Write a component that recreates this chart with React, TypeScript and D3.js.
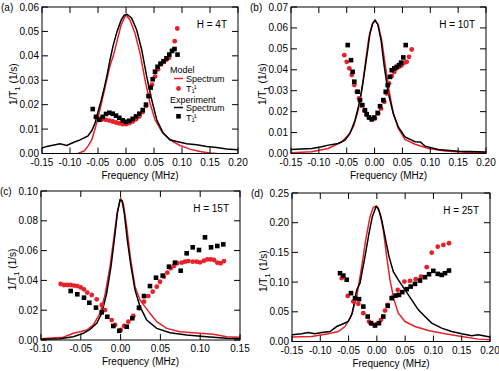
import React from 'react';
import * as d3 from 'd3';

type P = [number, number];

// ---------- Panel (a): H = 4T ----------
const aExpSpectrum: P[] = [[-0.150,.0022],[-0.1415,.0029],[-0.1178,.0040],[-0.1058,.0033],[-0.0941,.0045],[-0.0821,.0056],[-0.0678,.0072],[-0.0607,.0095],[-0.0553,.0125],[-0.0500,.0170],[-0.0446,.0215],[-0.0392,.0265],[-0.0339,.0320],[-0.0285,.0384],[-0.0232,.0440],[-0.0160,.0500],[-0.0089,.0545],[-0.0036,.0565],[0.0013,.0571],[0.0102,.0554],[0.0191,.0506],[0.0281,.0424],[0.0370,.0315],[0.0459,.0220],[0.0549,.0138],[0.0666,.0083],[0.0786,.0056],[0.0906,.0049],[0.1084,.0040],[0.1263,.0036],[0.1441,.0029],[0.1620,.0025],[0.1798,.0018],[0.1995,.0015]];
const aModelSpectrum: P[] = [[-0.0857,0],[-0.0749,.0010],[-0.0678,.0030],[-0.0612,.0056],[-0.0553,.0100],[-0.0464,.0180],[-0.0375,.0270],[-0.0285,.0360],[-0.0226,.0400],[-0.0160,.0460],[-0.0089,.0525],[-0.0005,.0567],[0.0072,.0547],[0.0161,.0492],[0.0250,.0411],[0.0340,.0301],[0.0429,.0206],[0.0518,.0138],[0.0638,.0090],[0.0786,.0056],[0.0965,.0033],[0.1143,.0018],[0.1322,.0008],[0.1500,.0002],[0.1620,0]];
const aModelT1: P[] = [[-0.0535,.0148],[-0.0476,.0143],[-0.0416,.0140],[-0.0357,.0138],[-0.0298,.0135],[-0.0237,.0131],[-0.0178,.0127],[-0.0119,.0123],[-0.0059,.0120],[0.0000,.0120],[0.0059,.0124],[0.0120,.0131],[0.0179,.0140],[0.0238,.0152],[0.0299,.0170],[0.0357,.0195],[0.0417,.0240],[0.0465,.0282],[0.0518,.0315],[0.0572,.0345],[0.0625,.0365],[0.0679,.0375],[0.0724,.0385],[0.0768,.0392],[0.0822,.0420],[0.0870,.0460],[0.0916,.0512]];
const aExpT1: P[] = [[-0.0594,.0182],[-0.0535,.0150],[-0.0476,.0138],[-0.0416,.0150],[-0.0357,.0162],[-0.0298,.0167],[-0.0237,.0163],[-0.0178,.0155],[-0.0119,.0146],[-0.0059,.0136],[0.0000,.0130],[0.0059,.0134],[0.0120,.0142],[0.0179,.0152],[0.0238,.0163],[0.0299,.0178],[0.0357,.0200],[0.0402,.0235],[0.0441,.0270],[0.0477,.0304],[0.0518,.0335],[0.0563,.0355],[0.0616,.0368],[0.0670,.0378],[0.0723,.0390],[0.0773,.0405],[0.0822,.0420],[0.0866,.0428],[0.0920,.0405]];

// ---------- Panel (b): H = 10T ----------
const bExpSpectrum: P[] = [[-0.15,.0019],[-0.1128,.0024],[-0.0949,.0032],[-0.0830,.0040],[-0.0651,.0048],[-0.0531,.0064],[-0.0441,.0096],[-0.0351,.0159],[-0.0261,.0255],[-0.0202,.0351],[-0.0141,.0462],[-0.0082,.0574],[-0.0033,.0622],[0.0008,.0638],[0.0056,.0619],[0.0116,.0542],[0.0175,.0414],[0.0247,.0287],[0.0336,.0191],[0.0426,.0127],[0.0546,.0079],[0.0726,.0056],[0.0820,.0055],[0.0905,.0035],[0.1144,.0019],[0.1503,.0011],[0.1862,.0008],[0.2,.0007]];
const bModelSpectrum: P[] = [[-0.15,.0003],[-0.1128,.0008],[-0.0830,.0024],[-0.0590,.0056],[-0.0471,.0088],[-0.0381,.0127],[-0.0292,.0207],[-0.0220,.0319],[-0.0159,.0446],[-0.0100,.0558],[-0.0041,.0619],[0.0008,.0634],[0.0067,.0614],[0.0128,.0542],[0.0187,.0431],[0.0259,.0303],[0.0336,.0191],[0.0426,.0120],[0.0546,.0067],[0.0726,.0044],[0.0965,.0024],[0.1264,.0012],[0.1623,.0006],[0.2,.0003]];
const bModelT1: P[] = [[-0.0543,.0470],[-0.0500,.0438],[-0.0453,.0407],[-0.0410,.0375],[-0.0364,.0327],[-0.0320,.0295],[-0.0279,.0263],[-0.0231,.0231],[-0.0184,.0204],[-0.0141,.0185],[-0.0095,.0172],[-0.0041,.0164],[0.0008,.0167],[0.0067,.0191],[0.0116,.0215],[0.0175,.0247],[0.0218,.0287],[0.0259,.0335],[0.0308,.0370],[0.0354,.0390],[0.0397,.0407],[0.0439,.0414],[0.0487,.0422],[0.0534,.0434],[0.0577,.0438],[0.0618,.0462],[0.0667,.0497]];
const bExpT1: P[] = [[-0.0482,.0518],[-0.0423,.0446],[-0.0393,.0390],[-0.0364,.0343],[-0.0303,.0295],[-0.0261,.0255],[-0.0220,.0231],[-0.0172,.0207],[-0.0141,.0188],[-0.0100,.0172],[-0.0051,.0163],[-0.0005,.0172],[0.0056,.0194],[0.0098,.0226],[0.0157,.0255],[0.0200,.0295],[0.0236,.0327],[0.0277,.0366],[0.0308,.0398],[0.0354,.0407],[0.0397,.0414],[0.0439,.0422],[0.0474,.0434],[0.0516,.0459],[0.0559,.0518]];

// ---------- Panel (c): H = 15T ----------
const cExpSpectrum: P[] = [[-0.10,.0005],[-0.0761,.0009],[-0.0594,.0022],[-0.0469,.0045],[-0.0384,.0072],[-0.0300,.0112],[-0.0237,.0179],[-0.0175,.0313],[-0.0121,.0492],[-0.0079,.0671],[-0.0041,.0850],[-0.0008,.0940],[0.0018,.0935],[0.0047,.0850],[0.0084,.0671],[0.0131,.0492],[0.0181,.0336],[0.0244,.0224],[0.0328,.0134],[0.0454,.0078],[0.0621,.0049],[0.0830,.0034],[0.1082,.0022],[0.1333,.0011],[0.15,.0009]];
const cModelSpectrum: P[] = [[-0.10,.0009],[-0.0720,.0018],[-0.0594,.0045],[-0.0510,.0056],[-0.0426,.0067],[-0.0343,.0101],[-0.0259,.0179],[-0.0196,.0302],[-0.0133,.0492],[-0.0083,.0693],[-0.0041,.0861],[0.0001,.0951],[0.0034,.0917],[0.0077,.0760],[0.0127,.0537],[0.0181,.0358],[0.0244,.0268],[0.0307,.0224],[0.0369,.0179],[0.0454,.0123],[0.0579,.0078],[0.0746,.0056],[0.0997,.0045],[0.1165,.0038],[0.1333,.0022],[0.15,.0018]];
const cModelT1: P[] = [[-0.0753,.0376],[-0.0711,.0369],[-0.0670,.0369],[-0.0627,.0369],[-0.0585,.0365],[-0.0544,.0362],[-0.0501,.0353],[-0.0460,.0340],[-0.0418,.0318],[-0.0363,.0302],[-0.0300,.0273],[-0.0237,.0235],[-0.0196,.0201],[-0.0112,.0134],[-0.0070,.0101],[0.0001,.0067],[0.0043,.0094],[0.0097,.0123],[0.0160,.0161],[0.0235,.0213],[0.0294,.0257],[0.0348,.0295],[0.0403,.0324],[0.0454,.0358],[0.0495,.0391],[0.0545,.0425],[0.0587,.0452],[0.0629,.0481],[0.0671,.0497],[0.0712,.0515],[0.0768,.0519],[0.0809,.0526],[0.0851,.0530],[0.0906,.0526],[0.0956,.0526],[0.0997,.0521],[0.1048,.0532],[0.1089,.0541],[0.1132,.0541],[0.1173,.0537],[0.1215,.0519],[0.1257,.0515],[0.1299,.0530]];
const cExpT1: P[] = [[-0.0627,.0329],[-0.0544,.0307],[-0.0460,.0284],[-0.0393,.0250],[-0.0309,.0217],[-0.0237,.0186],[-0.0167,.0156],[-0.0092,.0094],[-0.0016,.0062],[0.0077,.0089],[0.0147,.0146],[0.0231,.0217],[0.0294,.0295],[0.0369,.0362],[0.0445,.0418],[0.0529,.0432],[0.0608,.0492],[0.0683,.0519],[0.0755,.0465],[0.0830,.0582],[0.0906,.0622],[0.0985,.0604],[0.1060,.0689],[0.1136,.0622],[0.1215,.0631],[0.1290,.0642]];

// ---------- Panel (d): H = 25T ----------
const dExpSpectrum: P[] = [[-0.15,.0113],[-0.1329,.0129],[-0.1212,.0151],[-0.1093,.0129],[-0.0975,.0151],[-0.0828,.0168],[-0.0710,.0252],[-0.0593,.0298],[-0.0505,.0336],[-0.0434,.0477],[-0.0356,.0869],[-0.0298,.0982],[-0.0210,.1429],[-0.0139,.1822],[-0.0080,.2102],[-0.0015,.2270],[0.0026,.2243],[0.0086,.2046],[0.0144,.1765],[0.0215,.1429],[0.0291,.1177],[0.0379,.1037],[0.0498,.0869],[0.0616,.0701],[0.0733,.0533],[0.0851,.0420],[0.0970,.0309],[0.1146,.0225],[0.1323,.0168],[0.1500,.0129],[0.1677,.0096],[0.1793,.0113],[0.2,.0074]];
const dModelSpectrum: P[] = [[-0.15,.0074],[-0.1152,.0084],[-0.0858,.0129],[-0.0682,.0168],[-0.0563,.0252],[-0.0457,.0420],[-0.0356,.0757],[-0.0268,.1261],[-0.0197,.1710],[-0.0121,.2102],[-0.0063,.2260],[-0.0003,.2281],[0.0056,.2159],[0.0114,.1878],[0.0174,.1429],[0.0232,.1037],[0.0303,.0701],[0.0379,.0477],[0.0498,.0336],[0.0674,.0252],[0.0909,.0185],[0.1205,.0129],[0.15,.0084],[0.1793,.0040],[0.2,.0029]];
const dModelT1: P[] = [[-0.0621,.1066],[-0.0515,.0768],[-0.0416,.0673],[-0.0328,.0634],[-0.0240,.0477],[-0.0139,.0336],[-0.0091,.0298],[-0.0003,.0298],[0.0073,.0365],[0.0144,.0521],[0.0192,.0617],[0.0291,.0757],[0.0369,.0869],[0.0486,.1009],[0.0586,.1020],[0.0687,.1049],[0.0780,.1093],[0.0881,.1251],[0.0970,.1496],[0.1076,.1597],[0.1175,.1626],[0.1275,.1654]];
const dExpT1: P[] = [[-0.0651,.1150],[-0.0593,.1110],[-0.0533,.1040],[-0.0457,.0814],[-0.0386,.0730],[-0.0316,.0713],[-0.0240,.0588],[-0.0162,.0420],[-0.0103,.0309],[-0.0033,.0269],[0.0038,.0309],[0.0114,.0420],[0.0192,.0600],[0.0262,.0730],[0.0333,.0773],[0.0391,.0785],[0.0450,.0831],[0.0528,.0881],[0.0598,.0925],[0.0674,.0970],[0.0763,.1026],[0.0851,.1083],[0.0922,.1133],[0.0998,.1189],[0.1076,.1138],[0.1146,.1121],[0.1205,.1150],[0.1275,.1194]];

// ---------- Axes ----------
const xTicksWide = [-0.15, -0.10, -0.05, 0.00, 0.05, 0.10, 0.15, 0.20];
const xTicksC = [-0.10, -0.05, 0.00, 0.05, 0.10, 0.15];
const yTicksA = [0, 0.01, 0.02, 0.03, 0.04, 0.05, 0.06];
const yTicksB = [0, 0.01, 0.02, 0.03, 0.04, 0.05, 0.06, 0.07];
const yTicksC = [0, 0.02, 0.04, 0.06, 0.08, 0.10];
const yTicksD = [0, 0.05, 0.10, 0.15, 0.20, 0.25];
const panelTags = ['(a)', '(b)', '(c)', '(d)'];
const fieldTexts = ['H = 4T', 'H = 10T', 'H = 15T', 'H = 25T'];
const xTitle = 'Frequency (MHz)';
const legendHeads = ['Model', 'Experiment'];
const legendSpectrum = 'Spectrum';

const RED = '#e8202a';
const FONT = 'Liberation Sans, Arial, Helvetica, sans-serif';

type Cfg = {
  id: string; x0: number; x1: number; y0: number; y1: number;
  xDomain: [number, number]; yDomain: [number, number];
  xTicks: number[]; yTicks: number[];
  exp: P[]; model: P[]; expT1: P[]; modelT1: P[];
  tag: string; field: string; legend?: boolean;
};

const panels: Cfg[] = [
  { id: 'a', x0: 42, x1: 238, y0: 7, y1: 153.5, xDomain: [-0.15, 0.2], yDomain: [0, 0.06], xTicks: xTicksWide, yTicks: yTicksA, exp: aExpSpectrum, model: aModelSpectrum, expT1: aExpT1, modelT1: aModelT1, tag: panelTags[0], field: fieldTexts[0], legend: true },
  { id: 'b', x0: 291, x1: 486, y0: 7, y1: 153.5, xDomain: [-0.15, 0.2], yDomain: [0, 0.07], xTicks: xTicksWide, yTicks: yTicksB, exp: bExpSpectrum, model: bModelSpectrum, expT1: bExpT1, modelT1: bModelT1, tag: panelTags[1], field: fieldTexts[1] },
  { id: 'c', x0: 41, x1: 240, y0: 191, y1: 340, xDomain: [-0.10, 0.15], yDomain: [0, 0.10], xTicks: xTicksC, yTicks: yTicksC, exp: cExpSpectrum, model: cModelSpectrum, expT1: cExpT1, modelT1: cModelT1, tag: panelTags[2], field: fieldTexts[2] },
  { id: 'd', x0: 292, x1: 490, y0: 193, y1: 341.5, xDomain: [-0.15, 0.2], yDomain: [0, 0.25], xTicks: xTicksWide, yTicks: yTicksD, exp: dExpSpectrum, model: dModelSpectrum, expT1: dExpT1, modelT1: dModelT1, tag: panelTags[3], field: fieldTexts[3] },
];

function T1Label({ x, y }: { x: number; y: number }) {
  return (
    <text x={x} y={y} fontSize={9}>
      T<tspan fontSize={6} dy={1.5}>1</tspan>
      <tspan fontSize={6} dx={-3.3} dy={-4.5}>-1</tspan>
    </text>
  );
}

function Panel({ c }: { c: Cfg }) {
  const x = d3.scaleLinear().domain(c.xDomain).range([c.x0, c.x1]);
  const y = d3.scaleLinear().domain(c.yDomain).range([c.y1, c.y0]);
  const line = d3.line<P>().x(d => x(d[0])).y(d => y(d[1]));
  const clipId = `clip-${c.id}`;
  const tl = 6;
  const midY = (c.y0 + c.y1) / 2;
  return (
    <g fontFamily={FONT}>
      <defs>
        <clipPath id={clipId}>
          <rect x={c.x0} y={c.y0 - 2} width={c.x1 - c.x0} height={c.y1 - c.y0 + 2} />
        </clipPath>
      </defs>
      <g clipPath={`url(#${clipId})`}>
        <path d={line(c.model) || ''} fill="none" stroke={RED} strokeWidth={1.5} />
        <path d={line(c.exp) || ''} fill="none" stroke="#000" strokeWidth={1.5} />
        {c.modelT1.map((d, i) => (
          <circle key={`r${i}`} cx={x(d[0])} cy={y(d[1])} r={2.4} fill={RED} />
        ))}
        {c.expT1.map((d, i) => (
          <rect key={`k${i}`} x={x(d[0]) - 2.3} y={y(d[1]) - 2.3} width={4.6} height={4.6} fill="#000" />
        ))}
      </g>
      <rect x={c.x0} y={c.y0} width={c.x1 - c.x0} height={c.y1 - c.y0} fill="none" stroke="#000" strokeWidth={1} />
      {c.xTicks.map((t, i) => (
        <g key={`xt${i}`}>
          <line x1={x(t)} x2={x(t)} y1={c.y1} y2={c.y1 - tl} stroke="#000" />
          <line x1={x(t)} x2={x(t)} y1={c.y0} y2={c.y0 + tl} stroke="#000" />
          <text x={x(t)} y={c.y1 + 12} fontSize={10} textAnchor="middle">{t.toFixed(2)}</text>
        </g>
      ))}
      {c.yTicks.map((t, i) => (
        <g key={`yt${i}`}>
          <line x1={c.x0} x2={c.x0 + tl} y1={y(t)} y2={y(t)} stroke="#000" />
          <line x1={c.x1} x2={c.x1 - tl} y1={y(t)} y2={y(t)} stroke="#000" />
          <text x={c.x0 - 3} y={y(t) + 3.5} fontSize={10} textAnchor="end">{t.toFixed(2)}</text>
        </g>
      ))}
      <text x={(c.x0 + c.x1) / 2} y={c.y1 + 25} fontSize={10} textAnchor="middle">{xTitle}</text>
      <text transform={`translate(${c.x0 - 25},${midY + 4}) rotate(-90)`} fontSize={10} textAnchor="middle">
        1/T<tspan fontSize={8} dy={2.5}>1</tspan><tspan dy={-2.5}> (1/s)</tspan>
      </text>
      <text x={c.x0 - 41} y={c.y0 + 4} fontSize={10}>{c.tag}</text>
      <text x={c.x1 - 11} y={c.y0 + 21} fontSize={10} textAnchor="end">{c.field}</text>
      {c.legend && (
        <g fontSize={9}>
          <text x={170} y={73}>{legendHeads[0]}</text>
          <line x1={174} x2={183} y1={78.5} y2={78.5} stroke={RED} strokeWidth={1.5} />
          <text x={186} y={81.5}>{legendSpectrum}</text>
          <circle cx={178.5} cy={88.5} r={2.4} fill={RED} />
          <T1Label x={186} y={91.5} />
          <text x={170} y={103}>{legendHeads[1]}</text>
          <line x1={174} x2={183} y1={107.5} y2={107.5} stroke="#000" strokeWidth={1.5} />
          <text x={186} y={110.5}>{legendSpectrum}</text>
          <rect x={176.2} y={114} width={4.6} height={4.6} fill="#000" />
          <T1Label x={186} y={120.5} />
        </g>
      )}
    </g>
  );
}

export default function App() {
  return (
    <svg width={499} height={371} style={{ position: 'absolute', left: 0, top: 0, background: '#fff' }}>
      <rect width={499} height={371} fill="#fff" />
      {panels.map(p => <Panel key={p.id} c={p} />)}
    </svg>
  );
}
